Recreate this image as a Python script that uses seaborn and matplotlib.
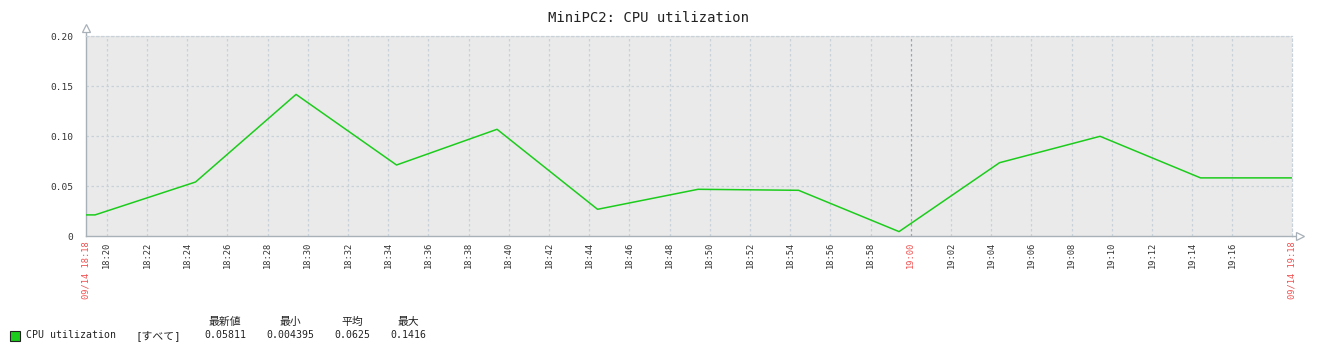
import matplotlib
matplotlib.use("Agg")
import matplotlib.pyplot as plt
import matplotlib.dates as mdates
import seaborn as sns
import pandas as pd
import numpy as np

# ---- data ----
times = ["2024-09-14 18:18:58", "2024-09-14 18:19:25", "2024-09-14 18:24:25",
         "2024-09-14 18:29:25", "2024-09-14 18:34:25", "2024-09-14 18:39:25",
         "2024-09-14 18:44:25", "2024-09-14 18:49:25", "2024-09-14 18:54:25",
         "2024-09-14 18:59:25", "2024-09-14 19:04:25", "2024-09-14 19:09:25",
         "2024-09-14 19:14:25", "2024-09-14 19:18:58"]
cpu = [0.0211, 0.0211, 0.0540, 0.1416, 0.0710, 0.1067, 0.0267, 0.0467,
       0.0457, 0.004395, 0.0733, 0.0997, 0.05811, 0.05811]
y_ticks = [0, 0.05, 0.10, 0.15, 0.20]
y_labels = ["0", "0.05", "0.10", "0.15", "0.20"]
x_start = "2024-09-14 18:18:58"
x_end = "2024-09-14 19:18:58"
start_label = "09/14 18:18"
end_label = "09/14 19:18"
title = "MiniPC2: CPU utilization"
series_name = "CPU utilization"
legend_func = "[すべて]"
legend_headers = ["最新値", "最小", "平均", "最大"]
legend_values = ["0.05811", "0.004395", "0.0625", "0.1416"]

df = pd.DataFrame({"time": pd.to_datetime(times), "cpu": cpu})

sns.set_theme(style="white")
plt.rcParams["font.family"] = ["DejaVu Sans Mono", "Noto Sans CJK JP"]

W, H = 1322, 354
fig = plt.figure(figsize=(W / 100, H / 100), dpi=100)
L, R, T, B = 86, 1292, 36, 236
ax = fig.add_axes([L / W, 1 - B / H, (R - L) / W, (B - T) / H])
ax.set_facecolor("#eaeaea")

GREEN = "#1ccc1c"
GRID = "#c9d2d8"
AXIS = "#a8b0b8"
RED = "#f05050"

sns.lineplot(data=df, x="time", y="cpu", ax=ax, color=GREEN, linewidth=1.1,
             legend=False, zorder=3)

t0 = pd.Timestamp(x_start)
t1 = pd.Timestamp(x_end)
ax.set_xlim(mdates.date2num(t0), mdates.date2num(t1))
ax.set_ylim(0, 0.2)

# y axis
ax.set_yticks(y_ticks)
ax.set_yticklabels(y_labels, fontsize=6.8, color="#333333")
for yv in y_ticks[1:]:
    ax.axhline(yv, color=GRID, lw=0.9, ls=(0, (2, 2)), zorder=1)

# x grid every 2 minutes
grid_times = pd.date_range("2024-09-14 18:20", "2024-09-14 19:16", freq="2min")
major_time = pd.Timestamp("2024-09-14 19:00")
for gt in grid_times:
    c = "#98a6b2" if gt == major_time else GRID
    ax.axvline(mdates.date2num(gt), color=c, lw=0.9, ls=(0, (2, 2)), zorder=1)

tick_pos = [mdates.date2num(t0)] + [mdates.date2num(g) for g in grid_times] + [mdates.date2num(t1)]
tick_lab = [start_label] + [g.strftime("%H:%M") for g in grid_times] + [end_label]
ax.set_xticks(tick_pos)
ax.set_xticklabels(tick_lab, rotation=90, fontsize=6.3, color="#333333",
                   va="top", ha="center")
for lbl, g in zip(ax.get_xticklabels(), [t0] + list(grid_times) + [t1]):
    if g == t0 or g == t1 or g == major_time:
        lbl.set_color(RED)
ax.tick_params(axis="x", length=0, pad=4)
ax.tick_params(axis="y", length=0, pad=9)
ax.set_xlabel("")
ax.set_ylabel("")

for s in ["left", "bottom"]:
    ax.spines[s].set_color(AXIS)
    ax.spines[s].set_linewidth(1.0)
for s in ["top", "right"]:
    ax.spines[s].set_color(GRID)
    ax.spines[s].set_linewidth(0.9)
    ax.spines[s].set_linestyle((0, (2, 2)))

# axis arrows
ax.plot([0, 0], [1, 1.03], transform=ax.transAxes, color=AXIS, lw=1.0, clip_on=False)
ax.plot([0], [1.04], transform=ax.transAxes, marker="^", ms=6, mfc="white",
        mec=AXIS, mew=0.9, clip_on=False)
ax.plot([1, 1.003], [0, 0], transform=ax.transAxes, color=AXIS, lw=1.0, clip_on=False)
ax.plot([1.0065], [0], transform=ax.transAxes, marker=">", ms=6, mfc="white",
        mec=AXIS, mew=0.9, clip_on=False)

# title
fig.text(649 / W, 1 - 18 / H, title, ha="center", va="center", fontsize=10,
         color="#222222")

# legend
fig.patches.append(plt.Rectangle((10 / W, 1 - 341 / H), 10 / W, 10 / H,
                                 transform=fig.transFigure, facecolor=GREEN,
                                 edgecolor="#222222", lw=0.8))
fig.text(26 / W, 1 - 335.5 / H, series_name, ha="left", va="center",
         fontsize=7.1, color="#222222")
fig.text(136 / W, 1 - 335.5 / H, legend_func, ha="left", va="center",
         fontsize=7.8, color="#222222")
centers = [225, 290, 352, 408]
for cx, hd, vv in zip(centers, legend_headers, legend_values):
    fig.text(cx / W, 1 - 322 / H, hd, ha="center", va="center", fontsize=7.8,
             color="#222222", family=["Noto Sans CJK JP", "DejaVu Sans Mono"])
    fig.text(cx / W, 1 - 335.5 / H, vv, ha="center", va="center", fontsize=7.1,
             color="#222222")

fig.savefig("out.png", dpi=100)
